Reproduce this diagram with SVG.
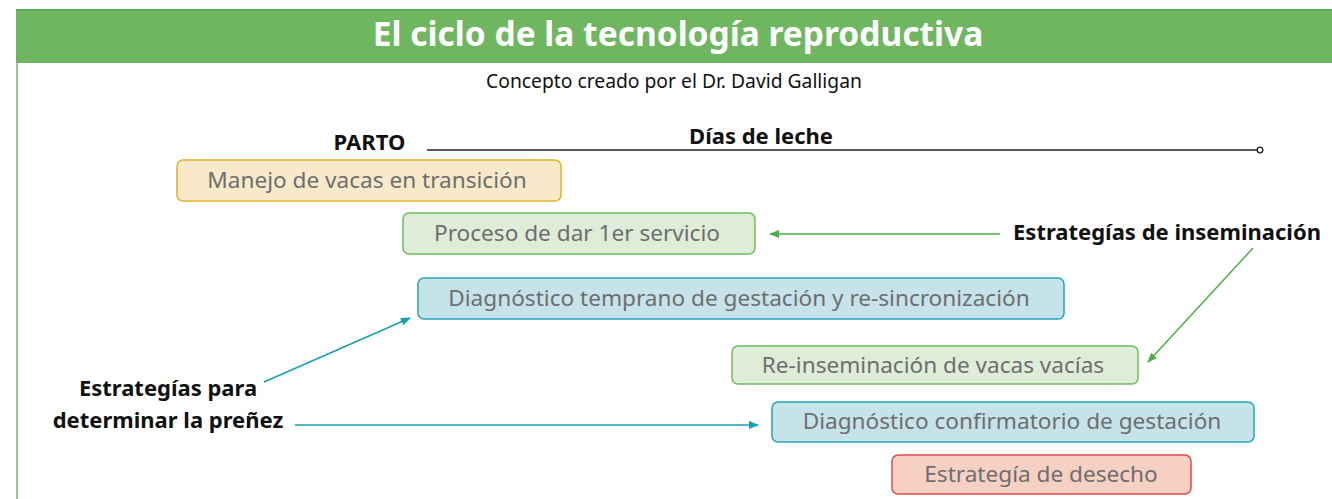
<svg xmlns="http://www.w3.org/2000/svg" width="1332" height="499" viewBox="0 0 1332 499">
<defs>
<style>
.t{font-family:"Noto Sans","Liberation Sans",sans-serif;}
.box text{font-size:22.6px;fill:#6d6e70;text-anchor:middle;font-family:"Noto Sans","Liberation Sans",sans-serif;}
.lbl{font-family:"Noto Sans","Liberation Sans",sans-serif;font-weight:bold;font-size:22px;fill:#111;}
.yel rect{fill:#f8e9c9;stroke:#e3b12a;stroke-width:1.5;}
.grn rect{fill:#dfecd7;stroke:#6dbd5f;stroke-width:1.5;}
.blu rect{fill:#c6e3e9;stroke:#22a5b9;stroke-width:1.5;}
.red rect{fill:#f6d0c2;stroke:#e2494e;stroke-width:1.5;}
</style>
<marker id="ag" markerWidth="10" markerHeight="8" refX="9" refY="4" orient="auto" markerUnits="userSpaceOnUse"><path d="M0,0 L10,4 L0,8 Z" fill="#4daf47"/></marker>
<marker id="at" markerWidth="10" markerHeight="8" refX="9" refY="4" orient="auto" markerUnits="userSpaceOnUse"><path d="M0,0 L10,4 L0,8 Z" fill="#17a0b0"/></marker>
</defs>
<rect width="1332" height="499" fill="#fff"/>
<g id="header">
<rect x="16" y="9" width="1316" height="54" fill="#6fb661"/>
<line x1="16" y1="10" x2="1332" y2="10" stroke="#5aab4f" stroke-width="2"/>
<line x1="17" y1="63" x2="17" y2="499" stroke="#6fb661" stroke-width="1.5"/>
<text class="t" x="678" y="46" font-size="33.5" font-weight="bold" fill="#fff" text-anchor="middle">El ciclo de la tecnología reproductiva</text>
<text class="t" x="674" y="88" font-size="19.3" fill="#111" text-anchor="middle">Concepto creado por el Dr. David Galligan</text>
</g>
<g id="timeline">
<text class="lbl" x="369.5" y="150" text-anchor="middle" font-size="24">PARTO</text>
<text class="lbl" x="761" y="144" text-anchor="middle">Días de leche</text>
<line x1="427" y1="150" x2="1257" y2="150" stroke="#222" stroke-width="1.5"/>
<circle cx="1260" cy="150" r="2.8" fill="#fff" stroke="#222" stroke-width="1.3"/>
</g>
<g id="n1" class="box yel"><rect x="177" y="160" width="384" height="41" rx="6"/><text x="367" y="188">Manejo de vacas en transición</text></g>
<g id="n2" class="box grn"><rect x="403" y="213" width="352" height="41" rx="6"/><text x="577" y="241">Proceso de dar 1er servicio</text></g>
<g id="n3" class="box blu"><rect x="418" y="278" width="646" height="41" rx="6"/><text x="739" y="306">Diagnóstico temprano de gestación y re-sincronización</text></g>
<g id="n4" class="box grn"><rect x="732" y="346" width="406" height="38" rx="6"/><text x="933" y="373">Re-inseminación de vacas vacías</text></g>
<g id="n5" class="box blu"><rect x="772" y="402" width="482" height="40" rx="6"/><text x="1012" y="429">Diagnóstico confirmatorio de gestación</text></g>
<g id="n6" class="box red"><rect x="892" y="455" width="299" height="39" rx="6"/><text x="1041" y="482">Estrategía de desecho</text></g>
<g id="lab-insem"><text class="lbl" x="1167" y="240" text-anchor="middle">Estrategías de inseminación</text></g>
<g id="lab-pren"><text class="lbl" x="168" y="396" text-anchor="middle">Estrategías para</text><text class="lbl" x="168" y="428" text-anchor="middle">determinar la preñez</text></g>
<g id="connectors" fill="none">
<line x1="1000" y1="234" x2="770" y2="234" stroke="#4daf47" stroke-width="1.5" marker-end="url(#ag)"/>
<line x1="1253" y1="248" x2="1148" y2="362" stroke="#4daf47" stroke-width="1.5" marker-end="url(#ag)"/>
<line x1="264" y1="382" x2="410" y2="318" stroke="#17a0b0" stroke-width="1.5" marker-end="url(#at)"/>
<line x1="295" y1="425" x2="758" y2="425" stroke="#17a0b0" stroke-width="1.5" marker-end="url(#at)"/>
</g>
</svg>
